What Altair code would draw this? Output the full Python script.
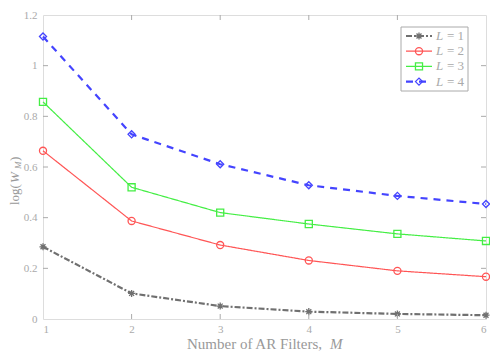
import altair as alt
import pandas as pd

M = [1, 2, 3, 4, 5, 6]
L1 = [0.285, 0.101, 0.051, 0.029, 0.020, 0.015]
L2 = [0.664, 0.387, 0.292, 0.231, 0.190, 0.167]
L3 = [0.857, 0.520, 0.420, 0.375, 0.336, 0.308]
L4 = [1.115, 0.729, 0.611, 0.528, 0.486, 0.454]
series_names = ["1", "2", "3", "4"]
series_vals = [L1, L2, L3, L4]
colors = ["#707070", "#ff5555", "#44ee44", "#4444ff"]
dashes = [[6, 2, 2, 2], [1, 0], [1, 0], [7, 6]]
widths = [2.2, 1.2, 1.2, 2.2]
asterisk = "M-1,0L1,0M0,-1L0,1M-0.7,-0.7L0.7,0.7M-0.7,0.7L0.7,-0.7"
shapes = [asterisk, "circle", "square", "diamond"]
x_ticks = [1, 2, 3, 4, 5, 6]
y_ticks = [0, 0.2, 0.4, 0.6, 0.8, 1.0, 1.2]

W, H = 443, 304
FONT = "Liberation Serif"
TXT = "#999999"

xs = alt.Scale(domain=[1, 6], nice=False)
ys = alt.Scale(domain=[0, 1.2], nice=False)

base_x = alt.X("M:Q", scale=xs,
               axis=alt.Axis(values=x_ticks, format="d", ticks=False, domain=False, grid=False,
                             labelFont=FONT, labelFontSize=11, labelColor="#aaaaaa", labelPadding=4,
                             title=None))
base_y = alt.Y("v:Q", scale=ys,
               axis=alt.Axis(values=y_ticks, format="~g", ticks=False, domain=False, grid=False,
                             labelFont=FONT, labelFontSize=11, labelColor="#aaaaaa", labelPadding=6,
                             title=None))

layers = []
for name, vals, c, d, w, s in zip(series_names, series_vals, colors, dashes, widths, shapes):
    df = pd.DataFrame({"M": M, "v": vals})
    layers.append(alt.Chart(df).mark_line(color=c, strokeDash=d, strokeWidth=w).encode(x=base_x, y=base_y))
    layers.append(alt.Chart(df).mark_point(shape=s, color=c, filled=False, size=50, strokeWidth=1.3, opacity=1)
                  .encode(x=base_x, y=base_y))

# inward ticks
xt = pd.DataFrame({"t": x_ticks[1:-1]})
yt = pd.DataFrame({"t": y_ticks[1:-1]})
tick_color = "#aaaaaa"
layers.append(alt.Chart(xt).mark_rule(color=tick_color).encode(x=alt.X("t:Q", scale=xs), y=alt.value(H), y2=alt.value(H - 5)))
layers.append(alt.Chart(xt).mark_rule(color=tick_color).encode(x=alt.X("t:Q", scale=xs), y=alt.value(0), y2=alt.value(5)))
layers.append(alt.Chart(yt).mark_rule(color=tick_color).encode(y=alt.Y("t:Q", scale=ys), x=alt.value(0), x2=alt.value(5)))
layers.append(alt.Chart(yt).mark_rule(color=tick_color).encode(y=alt.Y("t:Q", scale=ys), x=alt.value(W), x2=alt.value(W - 5)))

one = alt.Data(values=[{}])

# axis titles with italic parts
layers.append(alt.Chart(one).mark_text(text="Number of AR Filters,", font=FONT, fontSize=15, color=TXT,
                                       align="left", baseline="alphabetic")
              .encode(x=alt.value(144), y=alt.value(334)))
layers.append(alt.Chart(one).mark_text(text="M", font=FONT, fontSize=15, fontStyle="italic", color=TXT,
                                       align="left", baseline="alphabetic")
              .encode(x=alt.value(287), y=alt.value(334)))
ytitle = [("log(", 190, 13, "normal", -28), ("W", 168, 13, "italic", -28), ("M", 154, 9, "italic", -25), (")", 146, 13, "normal", -28)]
for t, yy, fs, st, xx in ytitle:
    layers.append(alt.Chart(one).mark_text(text=t, font=FONT, fontSize=fs, fontStyle=st, color=TXT,
                                           align="left", baseline="middle", angle=270)
                  .encode(x=alt.value(xx), y=alt.value(yy)))

# legend
layers.append(alt.Chart(one).mark_rect(fill="white", stroke="#aaaaaa", strokeWidth=1)
              .encode(x=alt.value(358), x2=alt.value(425), y=alt.value(12), y2=alt.value(76)))
for i, (name, c, d, w, s) in enumerate(zip(series_names, colors, dashes, widths, shapes)):
    yy = 21 + 15.2 * i
    layers.append(alt.Chart(one).mark_rule(color=c, strokeDash=d, strokeWidth=w)
                  .encode(x=alt.value(363), x2=alt.value(389), y=alt.value(yy)))
    layers.append(alt.Chart(one).mark_point(shape=s, color=c, filled=False, size=50, strokeWidth=1.3, opacity=1)
                  .encode(x=alt.value(376), y=alt.value(yy)))
    layers.append(alt.Chart(one).mark_text(text="L", font=FONT, fontSize=13, fontStyle="italic", color="#aaaaaa",
                                           align="left", baseline="middle")
                  .encode(x=alt.value(393), y=alt.value(yy)))
    layers.append(alt.Chart(one).mark_text(text="= " + name, font=FONT, fontSize=13, color="#aaaaaa",
                                           align="left", baseline="middle")
                  .encode(x=alt.value(404), y=alt.value(yy)))

chart = alt.layer(*layers).properties(
    width=W, height=H,
    autosize=alt.AutoSizeParams(type="none"),
    padding={"left": 35, "top": 7, "right": 4, "bottom": 33},
).configure_view(stroke="#aaaaaa", strokeWidth=1).configure(background="white")

chart.save("out.html", embed_options={"renderer": "svg", "actions": False})
